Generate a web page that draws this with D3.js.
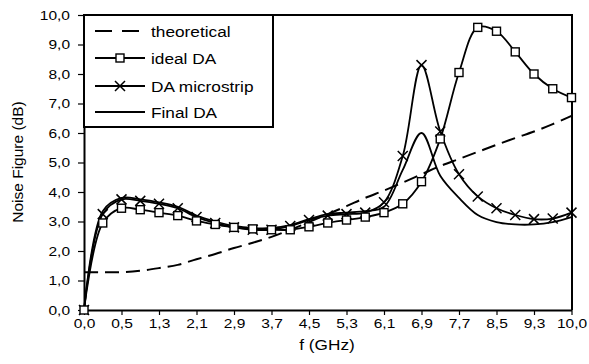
<!DOCTYPE html>
<html><head><meta charset="utf-8">
<script src="https://cdn.jsdelivr.net/npm/d3@7"></script>
<style>
html,body{margin:0;padding:0;background:#fff;}
text{font-family:"Liberation Sans",Arial,sans-serif;fill:#000;}
</style></head>
<body>
<svg id="chart" width="589" height="364"></svg>
<script>
// ---- data ----
const categories = [0.0,0.1,0.5,0.9,1.3,1.7,2.1,2.5,2.9,3.3,3.7,4.1,4.5,4.9,5.3,5.7,6.1,6.5,6.9,7.3,7.7,8.1,8.5,8.9,9.3,9.7,10.0];
const theoretical = [1.28,1.28,1.28,1.33,1.42,1.53,1.72,1.9,2.1,2.28,2.48,2.72,2.98,3.25,3.52,3.8,4.05,4.32,4.6,4.88,5.12,5.36,5.6,5.83,6.05,6.3,6.58];
const idealDA = [0,2.95,3.45,3.4,3.3,3.2,3.02,2.9,2.8,2.75,2.72,2.72,2.82,2.95,3.05,3.15,3.3,3.6,4.35,5.8,8.05,9.58,9.45,8.75,8.0,7.5,7.2];
const daMicrostrip = [0,3.25,3.75,3.7,3.6,3.45,3.15,2.95,2.8,2.72,2.72,2.85,3.05,3.2,3.25,3.3,3.65,5.22,8.3,6.05,4.6,3.85,3.45,3.22,3.08,3.1,3.3];
const finalDA = [0,3.35,3.8,3.75,3.65,3.5,3.2,3.0,2.85,2.78,2.78,2.88,3.08,3.25,3.3,3.35,3.5,4.75,6.0,4.55,3.8,3.22,2.98,2.9,2.9,2.98,3.15];
const yTicks = [0,1,2,3,4,5,6,7,8,9,10];
const seriesNames = ["theoretical","ideal DA","DA microstrip","Final DA"];
const xTitle = "f (GHz)";
const yTitle = "Noise Figure (dB)";

// ---- layout ----
const L = 84, R = 572, T = 15, B = 310;
const SX = 1.15;
const fmt = v => v.toFixed(1).replace(".", ",");

const svg = d3.select("#chart");
const x = d3.scalePoint().domain(d3.range(categories.length)).range([L, R - 0.5]);
const y = d3.scaleLinear().domain([0, 10]).range([B, T]);

// plot frame (top/right)
svg.append("path")
  .attr("d", `M${L},${T}H${R}V${B}`)
  .attr("fill", "none").attr("stroke", "#000").attr("stroke-width", 2);

// axes
const xAxis = d3.axisBottom(x)
  .tickValues(d3.range(0, categories.length, 2))
  .tickFormat(i => fmt(categories[i]))
  .tickSize(5).tickPadding(3).tickSizeOuter(0);
const gx = svg.append("g").attr("transform", `translate(0,${B})`).call(xAxis);
const yAxis = d3.axisLeft(y).tickValues(yTicks).tickFormat(fmt).tickSize(6).tickPadding(8).tickSizeOuter(0);
const gy = svg.append("g").attr("transform", `translate(${L},0)`).call(yAxis);
[gx, gy].forEach(g => {
  g.select(".domain").attr("stroke", "#000").attr("stroke-width", 2);
  g.selectAll(".tick line").attr("stroke", "#000").attr("stroke-width", 1.2);
  g.selectAll(".tick text")
    .style("font-size", "13.5px").style("font-family", '"Liberation Sans",Arial,sans-serif').attr("fill", "#000")
    .each(function(){ const t = d3.select(this); t.attr("x", (+t.attr("x") || 0) / SX).attr("transform", `scale(${SX},1)`); });
});

// titles
svg.append("text").attr("transform", `translate(327,350) scale(${SX},1)`)
  .attr("text-anchor", "middle").style("font-size", "15px").text(xTitle);
svg.append("text").attr("transform", `translate(23,162) rotate(-90)`)
  .attr("text-anchor", "middle").style("font-size", "15.5px").text(yTitle);

// lines
const curve = d3.curveCatmullRom.alpha(0.5);
const lineGen = d3.line().x((d, i) => x(i)).y(d => y(d)).curve(curve);

const plot = svg.append("g");
plot.append("path").datum(theoretical).attr("d", lineGen)
  .attr("fill", "none").attr("stroke", "#000").attr("stroke-width", 2).attr("stroke-dasharray", "14,7");
plot.append("path").datum(finalDA).attr("d", lineGen)
  .attr("fill", "none").attr("stroke", "#000").attr("stroke-width", 1.8);
plot.append("path").datum(daMicrostrip).attr("d", lineGen)
  .attr("fill", "none").attr("stroke", "#000").attr("stroke-width", 1.8);
plot.append("path").datum(idealDA).attr("d", lineGen)
  .attr("fill", "none").attr("stroke", "#000").attr("stroke-width", 1.8);

function crossPath(cx, cy, s) {
  return `M${cx - s},${cy - s}L${cx + s},${cy + s}M${cx - s},${cy + s}L${cx + s},${cy - s}`;
}
plot.selectAll(".xm").data(daMicrostrip).enter().append("path")
  .attr("d", (d, i) => crossPath(x(i), y(d), 5))
  .attr("stroke", "#000").attr("stroke-width", 1.5).attr("fill", "none");
plot.selectAll(".sq").data(idealDA).enter().append("rect")
  .attr("x", (d, i) => x(i) - 4).attr("y", d => y(d) - 4)
  .attr("width", 8).attr("height", 8)
  .attr("fill", "#fff").attr("stroke", "#000").attr("stroke-width", 1.4);

// legend
const lg = svg.append("g");
lg.append("rect").attr("x", 84).attr("y", 15).attr("width", 189).attr("height", 112)
  .attr("fill", "#fff").attr("stroke", "#000").attr("stroke-width", 2);
const rows = [31, 58, 86, 112];
seriesNames.forEach((name, k) => {
  const yy = rows[k];
  const ln = lg.append("line").attr("x1", 95).attr("x2", 145).attr("y1", yy).attr("y2", yy)
    .attr("stroke", "#000").attr("stroke-width", 2);
  if (k === 0) ln.attr("stroke-dasharray", "17,10");
  if (k === 1) lg.append("rect").attr("x", 116).attr("y", yy - 4).attr("width", 8).attr("height", 8)
    .attr("fill", "#fff").attr("stroke", "#000").attr("stroke-width", 1.4);
  if (k === 2) lg.append("path").attr("d", crossPath(120, yy, 5)).attr("stroke", "#000").attr("stroke-width", 1.5);
  lg.append("text").attr("transform", `translate(151,${yy + 5.5}) scale(${SX},1)`)
    .style("font-size", "15px").text(name);
});
</script>
</body></html>
